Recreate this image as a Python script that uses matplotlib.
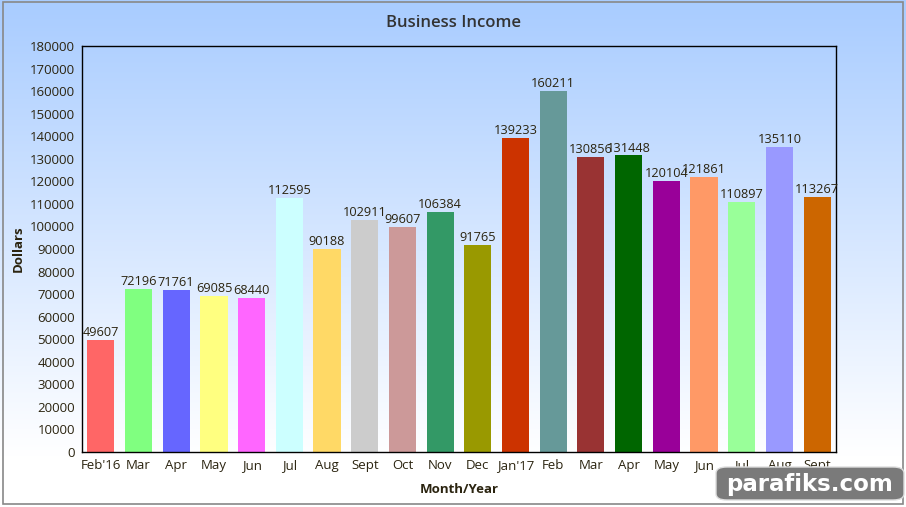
import numpy as np
import matplotlib.pyplot as plt
from matplotlib.patches import FancyBboxPatch, Rectangle

months = ["Feb'16", "Mar", "Apr", "May", "Jun", "Jul", "Aug", "Sept", "Oct", "Nov",
          "Dec", "Jan'17", "Feb", "Mar", "Apr", "May", "Jun", "Jul", "Aug", "Sept"]
income = [49607, 72196, 71761, 69085, 68440, 112595, 90188, 102911, 99607, 106384,
          91765, 139233, 160211, 130856, 131448, 120104, 121861, 110897, 135110, 113267]
colors = ["#FF6666", "#80FF80", "#6666FF", "#FFFF80", "#FF66FF", "#CCFFFF", "#FFD966",
          "#CCCCCC", "#CC9999", "#339966", "#999900", "#CC3300", "#669999", "#993333",
          "#006600", "#990099", "#FF9966", "#99FF99", "#9999FF", "#CC6600"]

txt = "#2b2410"
plt.rcParams['font.family'] = ['Open Sans', 'DejaVu Sans']

fig = plt.figure(figsize=(9.06, 5.07), dpi=100)

# фон с градиентом
bg = fig.add_axes([0, 0, 1, 1], zorder=0)
top = np.array([0.66, 0.80, 1.0])
bot = np.array([1.0, 1.0, 1.0])
t = np.clip(np.linspace(0, 1, 256) / 0.9, 0, 1)[:, None]
grad = top * (1 - t) + bot * t
bg.imshow(grad[:, None, :], aspect='auto', extent=[0, 1, 0, 1])
bg.add_patch(Rectangle((0.003, 0.006), 0.994, 0.99, fill=False, edgecolor="#888888", lw=1.2))
bg.set_xlim(0, 1)
bg.set_ylim(0, 1)
bg.axis('off')

ax = fig.add_axes([0.0905, 0.1085, 0.8322, 0.8008], zorder=1)
ax.set_facecolor('none')
x = np.arange(len(months))
ax.bar(x, income, width=0.72, color=colors)
for xi, v in zip(x, income):
    ax.text(xi, v + 400, str(v), ha='center', va='bottom', fontsize=9.2, color=txt)

ax.set_xlim(-0.5, len(months) - 0.5)
ax.set_ylim(0, 180000)
ax.set_yticks(range(0, 180001, 10000))
ax.set_xticks(x)
ax.set_xticklabels(months)
ax.tick_params(length=0, labelsize=9.5, labelcolor=txt, pad=5)
for s in ax.spines.values():
    s.set_color('black')
    s.set_linewidth(1)

ax.set_xlabel("Month/Year", fontsize=9.5, fontweight='bold', color=txt, labelpad=8)
ax.set_ylabel("Dollars", fontsize=9.5, fontweight='bold', color=txt, labelpad=4)
fig.text(0.5, 0.955, "Business Income", ha='center', va='center', fontsize=12,
         fontweight='semibold', color="#333333")

# водяной знак
wm = FancyBboxPatch((716 / 906, 7 / 507), 188 / 906, 33 / 507,
                    boxstyle="round,pad=0,rounding_size=0.012", transform=fig.transFigure,
                    facecolor="#7a7a7a", edgecolor="#dddddd", lw=1, zorder=5)
fig.patches.append(wm)
fig.text(810 / 906, 23 / 507, "parafiks.com", ha='center', va='center', fontsize=16.5,
         fontweight='bold', color='white', family='DejaVu Sans', zorder=6)

fig.savefig("out.png", dpi=100)
